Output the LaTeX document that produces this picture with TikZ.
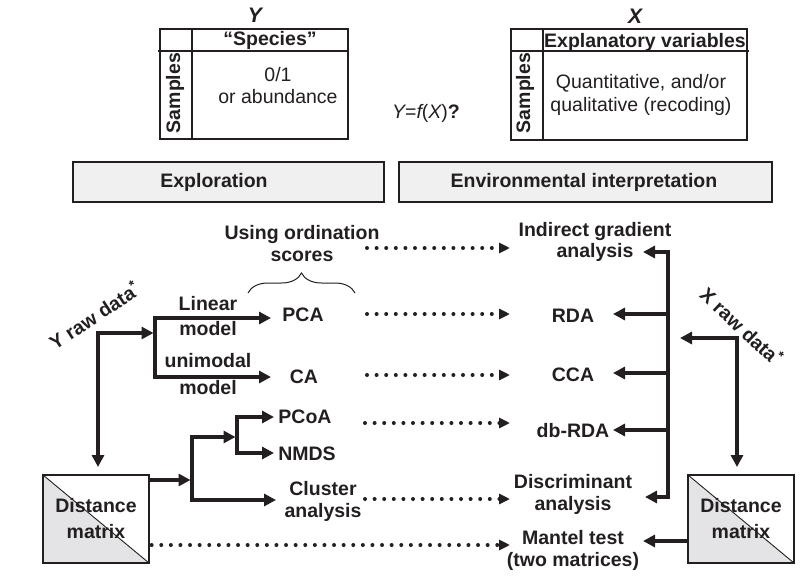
\documentclass[tikz,border=0pt]{standalone}
\usepackage{fontspec}
\setmainfont{Liberation Sans}
\usetikzlibrary{arrows.meta,decorations.pathreplacing,calc}
\definecolor{ink}{HTML}{231F20}
\definecolor{boxgray}{HTML}{F0F0F0}
\definecolor{trigray}{HTML}{E4E4E6}
\begin{document}
\begin{tikzpicture}[x=1pt,y=-1pt,
  lbl/.style={font=\fontsize{19.5}{22}\selectfont\bfseries, text=ink, align=center, inner sep=0pt},
  reg/.style={font=\fontsize{19.5}{23}\selectfont, text=ink, align=center, inner sep=0pt},
  arr/.style={draw=ink, line width=3.6pt, line join=miter, -{Triangle[length=12pt,width=12pt]}},
  dbl/.style={draw=ink, line width=3.6pt, line join=miter, {Triangle[length=12pt,width=12pt]}-{Triangle[length=12pt,width=12pt]}},
  dotarr/.style={draw=ink, line width=4pt, line cap=round, dash pattern=on 0pt off 9.6pt, -{Triangle[length=11pt,width=10pt]}},
  tbl/.style={draw=ink, line width=1.3pt},
  hdrbox/.style={draw=ink, line width=1.3pt, fill=boxgray, inner sep=0pt},
  dmat/.style={draw=ink, line width=1.3pt, minimum width=106pt, minimum height=88pt, inner sep=0pt,
    align=center, text=ink, font=\fontsize{19.5}{26}\selectfont\bfseries,
    path picture={\fill[trigray] (path picture bounding box.north west) -- (path picture bounding box.south west) -- (path picture bounding box.south east) -- cycle;
      \draw[ink, line width=0.9pt] (path picture bounding box.north west) -- (path picture bounding box.south east);}},
]
\useasboundingbox (0,0) rectangle (812,584);

% ---------- Y table ----------
\draw[tbl] (160,29) rectangle (348,139);
\draw[tbl] (158,51) -- (348,51);
\draw[tbl] (192,29) -- (192,139);
\node[lbl, font=\fontsize{21}{22}\selectfont\bfseries\itshape] (ylab) at (255,15) {Y};
\node[lbl] (species) at (270,40) {“Species”};
\node[lbl, rotate=90] (ysamp) at (175,93) {Samples};
\node[reg, font=\fontsize{19.5}{22}\selectfont] (yval) at (278,86) {0/1\\ or abundance};

% ---------- X table ----------
\draw[tbl] (511,29) rectangle (747,140);
\draw[tbl] (511,51) -- (749,51);
\draw[tbl] (543,29) -- (543,140);
\node[lbl, font=\fontsize{21}{22}\selectfont\bfseries\itshape] (xlab) at (635,16) {X};
\node[lbl] (expvar) at (645,42) {Explanatory variables};
\node[lbl, rotate=90] (xsamp) at (525,93) {Samples};
\node[reg] (xval) at (641,94.5) {Quantitative, and/or\\qualitative (recoding)};

\node[reg] (yfx) at (426,113) {\itshape Y\upshape=\itshape f\upshape(\itshape X\upshape)\bfseries ?};

% ---------- header boxes ----------
\node[hdrbox, minimum width=311pt, minimum height=40pt] (explbox) at (228.5,182) {};
\node[lbl] (expl) at (214,182) {Exploration};
\node[hdrbox, minimum width=373pt, minimum height=40pt] (envbox) at (585.5,182) {};
\node[lbl] (env) at (584,182) {Environmental interpretation};

% ---------- left labels ----------
\node[lbl] (ordsc) at (302,244) {Using ordination\\scores};
\draw[ink, line width=1pt, decorate, decoration={brace, amplitude=20pt, aspect=0.5}] (248,293) -- (355,293);
\node[lbl, rotate=33] (yraw) at (94,315) {Y raw data\textsuperscript{*}};
\node[lbl, font=\fontsize{19.5}{25}\selectfont\bfseries] (linear) at (208,316) {Linear\\model};
\node[lbl, font=\fontsize{19.5}{27}\selectfont\bfseries] (unimod) at (208,374) {unimodal\\model};
\node[lbl] (pca) at (303,315) {PCA};
\node[lbl] (ca) at (304,377) {CA};
\node[lbl] (pcoa) at (305,417) {PCoA};
\node[lbl] (nmds) at (307,454) {NMDS};
\node[lbl] (clus) at (323,501) {Cluster\\analysis};

% ---------- right labels ----------
\node[lbl, font=\fontsize{19.5}{21}\selectfont\bfseries] (iga) at (595,242) {Indirect gradient\\analysis};
\node[lbl] (rda) at (573,316) {RDA};
\node[lbl] (cca) at (573,375) {CCA};
\node[lbl] (dbrda) at (573,431) {db-RDA};
\node[lbl] (disc) at (573,494) {Discriminant\\analysis};
\node[lbl] (mantel) at (573,550) {Mantel test\\(two matrices)};
\node[lbl, rotate=-43] (xraw) at (742,326) {X raw data\textsuperscript{*}};

% ---------- distance matrices ----------
\node[dmat] (dmL) at (96,519) {Distance\\matrix};
\node[dmat] (dmR) at (741,519) {Distance\\matrix};

% ---------- coordinates ----------
\coordinate (ycor) at (98,333);
\coordinate (ydown) at (98,467);
\coordinate (ybtip) at (153.5,333);
\coordinate (ya) at (155,318);
\coordinate (yb) at (155,377);
\coordinate (pcatip) at (271,318);
\coordinate (catip) at (271,377);
\coordinate (lbtip) at (190.5,480);
\coordinate (la) at (192,437);
\coordinate (lb) at (192,500);
\coordinate (latip) at (235.5,437);
\coordinate (clustip) at (276,500);
\coordinate (ma) at (237,417);
\coordinate (mb) at (237,453);
\coordinate (pcoatip) at (274,417);
\coordinate (nmdstip) at (274,453);
\coordinate (ra) at (668,252);
\coordinate (rb) at (668,497);
\coordinate (igatip) at (643,252);
\coordinate (disctip) at (645,497);
\coordinate (r1) at (668,314);
\coordinate (r2) at (668,373);
\coordinate (r3) at (668,430);
\coordinate (rdatip) at (613,314);
\coordinate (ccatip) at (613,373);
\coordinate (dbtip) at (613,430);
\coordinate (xcor) at (737,338);
\coordinate (xltip) at (680,338);
\coordinate (xdtip) at (737,467);
\coordinate (manteltip) at (643,541);

% ---------- solid connectors ----------
\draw[dbl] (ydown) -- (ycor) -- (ybtip);
\draw[dbl] (pcatip) -- (ya) -- (yb) -- (catip);
\draw[arr] (dmL.east |- lbtip) -- (lbtip);
\draw[dbl] (latip) -- (la) -- (lb) -- (clustip);
\draw[dbl] (pcoatip) -- (ma) -- (mb) -- (nmdstip);
\draw[dbl] (igatip) -- (ra) -- (rb) -- (disctip);
\draw[arr] (r1) -- (rdatip);
\draw[arr] (r2) -- (ccatip);
\draw[arr] (r3) -- (dbtip);
\draw[dbl] (xltip) -- (xcor) -- (xdtip);
\draw[arr] (dmR.west |- manteltip) -- (manteltip);

% ---------- dotted connectors ----------
\draw[dotarr] (367,248) -- (510,248);
\draw[dotarr] (367,314) -- (510,314);
\draw[dotarr] (367,375) -- (510,375);
\draw[dotarr] (365,423) -- (510,423);
\draw[dotarr] (365,499) -- (510,499);
\draw[dotarr] ($(dmL.east |- 0,545)+(2,0)$) -- (510,545);
\end{tikzpicture}
\end{document}
